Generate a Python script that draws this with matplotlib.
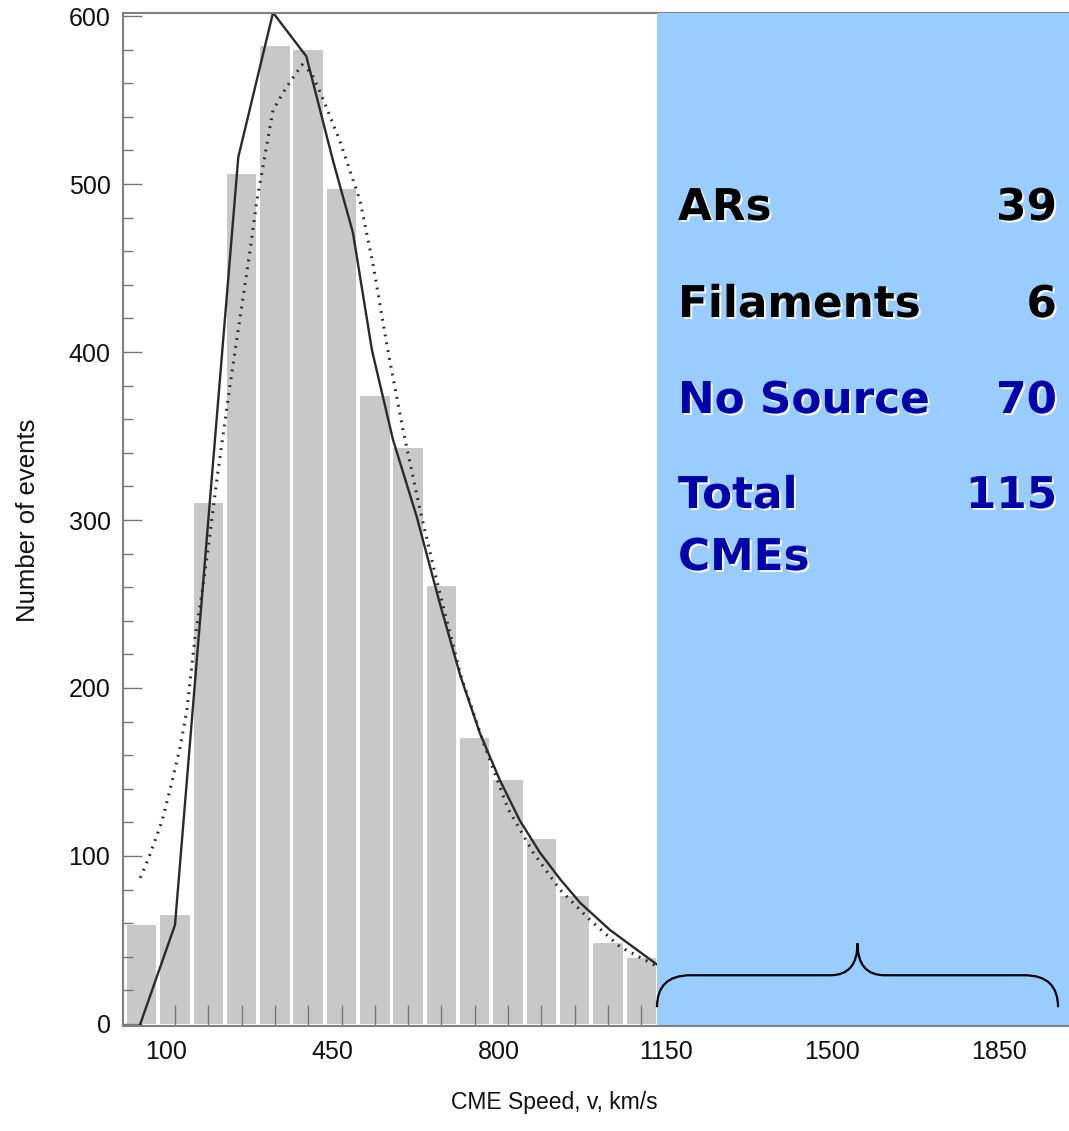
import matplotlib
matplotlib.use('Agg')
import matplotlib.pyplot as plt
import matplotlib.patheffects as pe
import matplotlib.transforms as mtransforms
from matplotlib.path import Path
from matplotlib.patches import PathPatch

# histogram of CME speeds (bins 70 km/s wide)
bin_centers = [30, 100, 170, 240, 310, 380, 450, 520, 590, 660, 730, 800, 870, 940, 1010, 1080]
counts = [59, 65, 310, 506, 582, 580, 497, 374, 343, 261, 170, 145, 110, 76, 48, 39]

# solid curve
solid_x = [27, 100, 170, 233, 306, 376, 432, 474, 514, 558, 608, 655, 700, 741, 783, 825, 867, 910, 952, 1014, 1115]
solid_y = [0, 59, 300, 516, 602, 576, 514, 471, 401, 348, 302, 252, 207, 173, 145, 121, 102, 86, 72, 56, 35]

# dotted curve
dot_x = [27, 45, 73, 90, 111, 125, 142, 157, 170, 188, 216, 258, 272, 306, 335, 367, 387, 412, 446, 489,
         517, 546, 579, 615, 650, 700, 750, 800, 853, 909, 972, 1035, 1115]
dot_y = [87, 99, 121, 140, 165, 187, 230, 257, 284, 324, 381, 461, 490, 544, 558, 571, 566, 550, 526, 490,
         451, 403, 354, 306, 264, 208, 166, 128, 102, 80, 62, 46, 34]

xticks_major = [100, 450, 800, 1150, 1500, 1850]
xtick_labels = ['100', '450', '800', '1150', '1500', '1850']
xticks_minor = [170, 240, 310, 380, 520, 590, 660, 730, 870, 940, 1010, 1080]

rows = [('ARs', '39', 'black'),
        ('Filaments', '6', 'black'),
        ('No Source', '70', '#0000aa'),
        ('Total', '115', '#0000aa')]

W, H = 1069, 1131
fig = plt.figure(figsize=(W / 100, H / 100), dpi=100)
ax = fig.add_axes([123 / W, (H - 1026) / H, (W - 123) / W, (1026 - 13) / H])

ax.bar(bin_centers, counts, width=62, color='#c8c8c8', zorder=1)
ax.plot(solid_x, solid_y, color='#2a2a2a', lw=1.7, zorder=2)
ax.plot(dot_x, dot_y, color='#2a2a2a', lw=2.2, linestyle=(0, (0.6, 2.0)), zorder=2)

ax.set_xlim(-9.3, 1979)
ax.set_ylim(-1.2, 601.8)

# shaded panel on the right
ax.axvspan(1113, 2100, color='#99ccff', zorder=3, lw=0)

for s in ['left', 'top', 'bottom']:
    ax.spines[s].set_color('#808080')
    ax.spines[s].set_linewidth(1.5)
ax.spines['right'].set_visible(False)
ax.spines['bottom'].set_zorder(4)

ax.set_xticks(xticks_major)
ax.set_xticklabels(xtick_labels)
ax.set_xticks(xticks_minor, minor=True)
ax.set_yticks(range(0, 601, 100))
ax.set_yticks(range(0, 601, 20), minor=True)

ax.tick_params(axis='x', which='both', direction='in', length=15, width=1, color='#777777',
               labelsize=18, labelcolor='#111111', pad=10)
ax.tick_params(axis='y', which='major', direction='in', length=14, width=1, color='#777777',
               labelsize=18, labelcolor='#111111', pad=9)
ax.tick_params(axis='y', which='minor', direction='in', length=7, width=1, color='#777777')
shift = mtransforms.ScaledTranslation(-9 / 100, 0, fig.dpi_scale_trans)
for lab in ax.get_xticklabels():
    lab.set_family('Liberation Sans')
    lab.set_transform(lab.get_transform() + shift)
for lab in ax.get_yticklabels():
    lab.set_family('Liberation Sans')

fig.text(554 / W, 1 - 1103 / H, 'CME Speed, v, km/s', ha='center', va='center',
         fontsize=16.5, family='Liberation Sans', color='#111111')
fig.text(28 / W, 1 - 520 / H, 'Number of events', ha='center', va='center', rotation=90,
         fontsize=18.5, family='Liberation Sans', color='#111111')

# brace under the shaded panel
bl, br = 1113, 1956
bm = (bl + br) / 2
y0, y1, y2 = 10, 29, 48
verts = [(bl, y0), (bl, y1), (bl + 70, y1), (bm - 57, y1), (bm, y1), (bm, y2),
         (bm, y1), (bm + 57, y1), (br - 70, y1), (br, y1), (br, y0)]
codes = [Path.MOVETO, Path.CURVE3, Path.CURVE3, Path.LINETO, Path.CURVE3, Path.CURVE3,
         Path.CURVE3, Path.CURVE3, Path.LINETO, Path.CURVE3, Path.CURVE3]
ax.add_patch(PathPatch(Path(verts, codes), fill=False, lw=1.6, color='black', zorder=5))

shadow = [pe.withSimplePatchShadow(offset=(1.5, -1.5), shadow_rgbFace='white', alpha=0.9)]
baselines = [220, 317, 413, 508]
for (name, val, col), yb in zip(rows, baselines):
    fig.text(678 / W, 1 - yb / H, name, ha='left', va='baseline', fontsize=31.5,
             fontweight='bold', color=col, family='DejaVu Sans', path_effects=shadow)
    fig.text(1057 / W, 1 - yb / H, val, ha='right', va='baseline', fontsize=31.5,
             fontweight='bold', color=col, family='DejaVu Sans', path_effects=shadow)
fig.text(678 / W, 1 - 570 / H, 'CMEs', ha='left', va='baseline', fontsize=31.5,
         fontweight='bold', color='#0000aa', family='DejaVu Sans', path_effects=shadow)

fig.savefig('out.png', dpi=100)
